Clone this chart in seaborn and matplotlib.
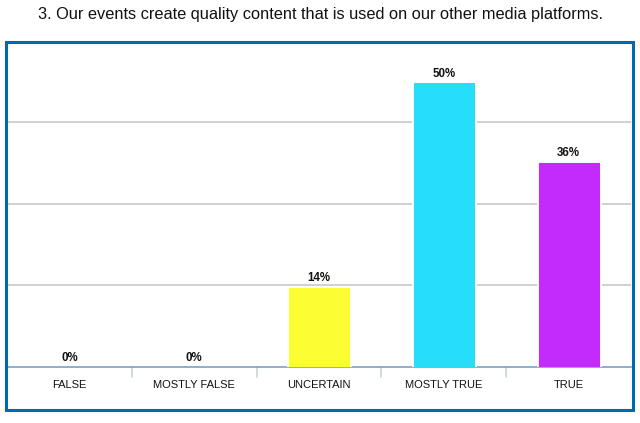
import matplotlib
matplotlib.use("Agg")
import matplotlib.pyplot as plt
import matplotlib.patheffects as pe
from matplotlib.patches import Rectangle
import seaborn as sns
import pandas as pd

title = "3. Our events create quality content that is used on our other media platforms."
categories = ["FALSE", "MOSTLY FALSE", "UNCERTAIN", "MOSTLY TRUE", "TRUE"]
values = [0, 0, 14, 50, 36]
colors = ["#b0b0b0", "#b0b0b0", "#FDFD33", "#26DDFC", "#C22BFB"]
grid_step = 14.4
grid_max = 56.9

sns.set_theme(style="white")
plt.rcParams["font.family"] = ["Liberation Sans", "DejaVu Sans"]

W, H = 640, 423
AX_H = 323
fig = plt.figure(figsize=(W / 100, H / 100), dpi=100)
ax = fig.add_axes([7 / W, 56 / H, 624 / W, AX_H / H])

df = pd.DataFrame({"cat": categories, "val": values})
sns.barplot(data=df, x="cat", y="val", hue="cat", palette=colors,
            order=categories, legend=False, width=0.48, ax=ax,
            saturation=1, zorder=3)

for p in ax.patches:
    if p.get_height() > 0:
        p.set_path_effects([pe.Stroke(linewidth=3.5, foreground="white"), pe.Normal()])
        p.set_edgecolor(p.get_facecolor())
        p.set_linewidth(0.8)
    else:
        p.set_visible(False)

for c in ax.containers:
    ax.bar_label(c, fmt="%d%%", padding=2.5, fontsize=8.3, fontweight="bold",
                 color="#111111")

ax.set_ylim(0, grid_max)
ax.set_xlim(-0.5, len(categories) - 0.5)
ticks = [grid_step * i for i in range(1, 4)]
ax.set_yticks(ticks)
ax.set_yticklabels([])
ax.yaxis.grid(True, color="#c8c8c8", linewidth=1.2, zorder=0)
ax.set_axisbelow(True)
ax.tick_params(axis="y", length=0)

ax.set_xlabel("")
ax.set_ylabel("")
ax.set_xticks(range(len(categories)))
ax.set_xticklabels(categories, fontsize=8, color="#111111")
ax.tick_params(axis="x", length=0, pad=9)
for x in [i + 0.5 for i in range(len(categories) - 1)]:
    ax.plot([x, x], [0, -10 / AX_H * grid_max], color="#c5d3e3", linewidth=1.2,
            clip_on=False, zorder=1)

for s in ["top", "right", "left"]:
    ax.spines[s].set_visible(False)
ax.spines["bottom"].set_color("#7f9fc4")
ax.spines["bottom"].set_linewidth(1.2)

fig.patches.append(Rectangle((5.5 / W, (H - 410) / H), 627 / W, 368 / H,
                             transform=fig.transFigure, fill=False,
                             edgecolor="#0068b0", linewidth=2.2, zorder=10))

fig.text(0.5, (H - 14) / H, title, ha="center", va="center", fontsize=11.8,
         color="#111111")

fig.savefig("out.png", dpi=100)
